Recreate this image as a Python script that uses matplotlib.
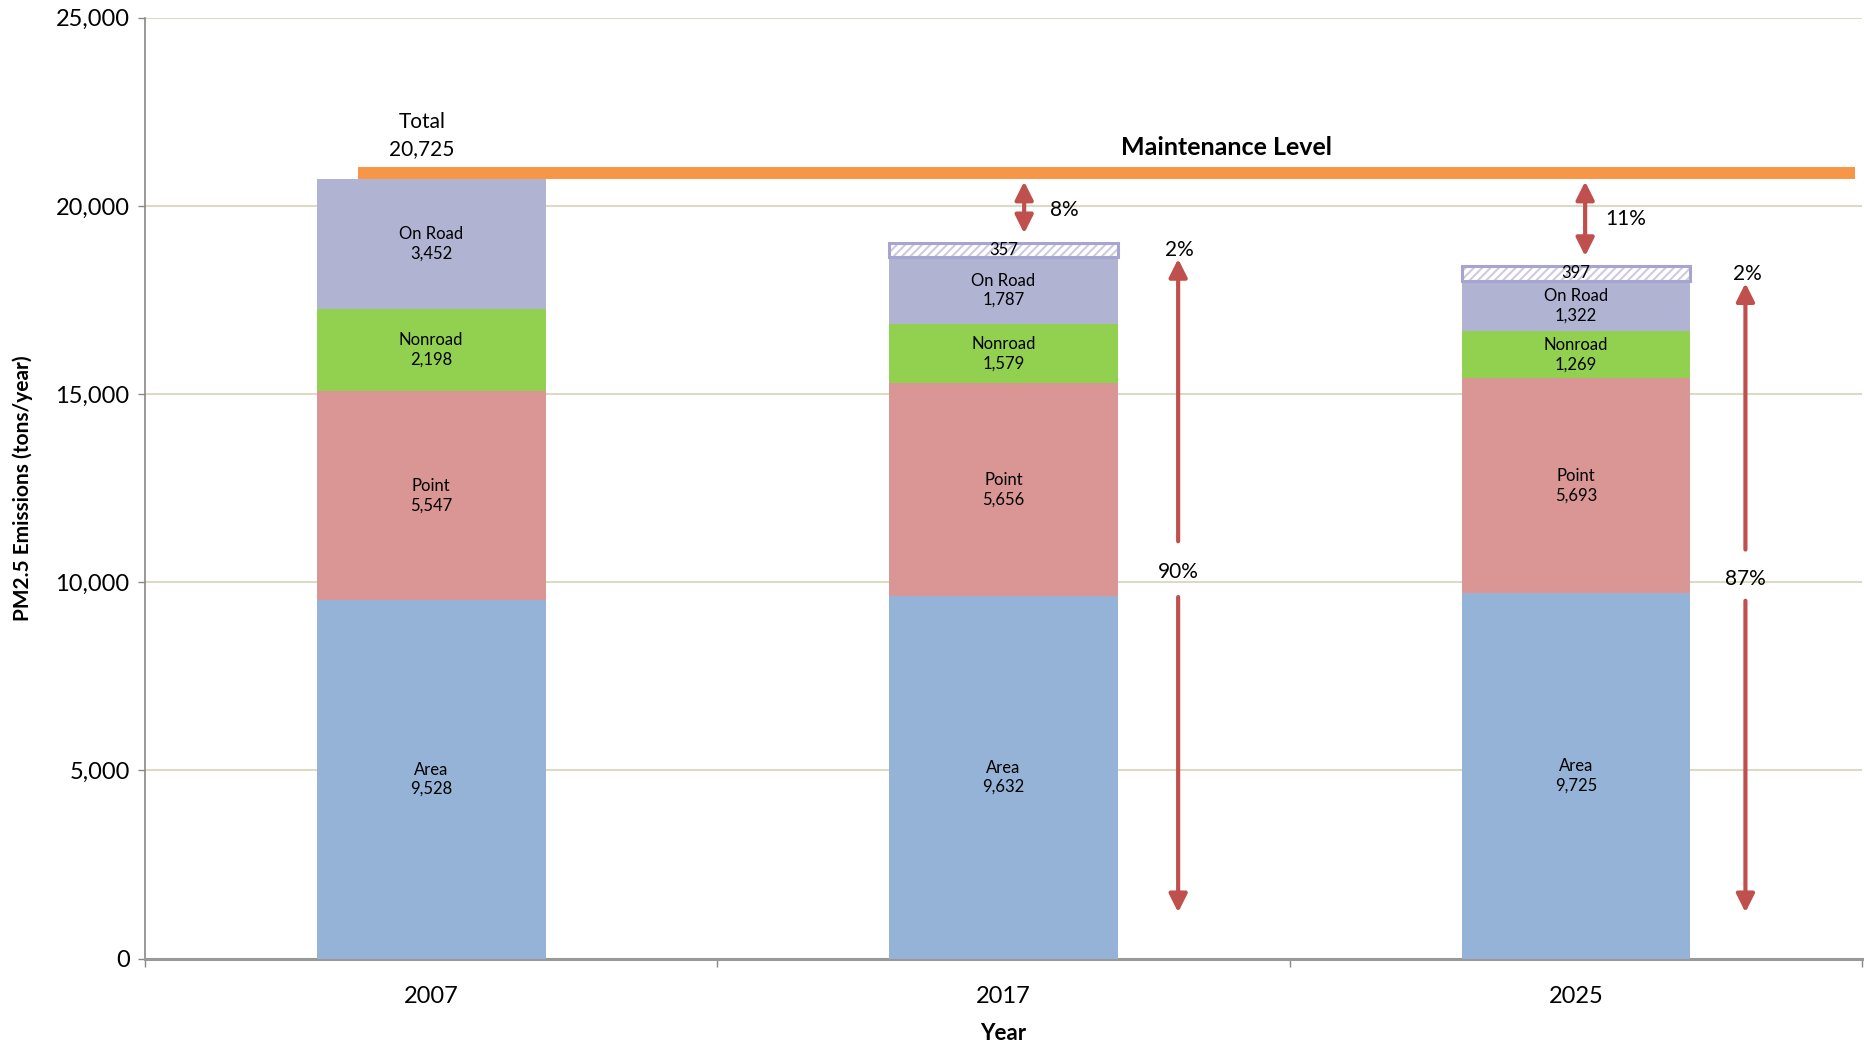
import matplotlib
matplotlib.use('Agg')
import matplotlib.pyplot as plt
from matplotlib.patches import FancyArrowPatch
from matplotlib.ticker import FuncFormatter, FixedLocator
import numpy as np

# ---------------- data ----------------
years = ['2007', '2017', '2025']
sectors = ['Area', 'Point', 'Nonroad', 'On Road']
area = [9528, 9632, 9725]
point = [5547, 5656, 5693]
nonroad = [2198, 1579, 1269]
onroad = [3452, 1787, 1322]
safety_margin = [0, 357, 397]
maintenance_level = 20885
total_2007 = 20725
gap_pct = ['', '8%', '11%']
margin_pct = ['', '2%', '2%']
inventory_pct = ['', '90%', '87%']
yticks = [0, 5000, 10000, 15000, 20000, 25000]

colors = ['#95b3d7', '#d99694', '#92d050', '#b0b3d2']
orange = '#f79646'
arrow_red = '#c0504d'

plt.rcParams['font.family'] = ['Lato', 'DejaVu Sans']

fig = plt.figure(figsize=(18.65, 10.46), dpi=100)
ax = fig.add_axes([0.0777, 0.0835, 0.9208, 0.8995])

x = np.arange(len(years))
width = 0.4
series = [area, point, nonroad, onroad]
bottom = np.zeros(len(years))
for name, vals, c in zip(sectors, series, colors):
    vals = np.array(vals, dtype=float)
    ax.bar(x, vals, width, bottom=bottom, color=c, edgecolor='none', zorder=3)
    for xi, b, v in zip(x, bottom, vals):
        ax.text(xi, b + v / 2, f"{name}\n{int(v):,}", ha='center', va='center',
                fontsize=12, zorder=5, linespacing=1.25)
    bottom = bottom + vals
stack_tops = bottom.copy()

# safety margin (hatched)
plt.rcParams['hatch.linewidth'] = 1.5
for xi, b, s in zip(x, stack_tops, safety_margin):
    if s <= 0:
        continue
    ax.bar(xi, s, width, bottom=b, color='white', edgecolor='#cdcbe3',
           hatch='////', linewidth=0, zorder=3)
    ax.bar(xi, s, width, bottom=b, color='none', edgecolor='#a6a5d0',
           linewidth=2.2, zorder=4)
    ax.text(xi, b + s / 2, f"{s:,}", ha='center', va='center', fontsize=12, zorder=5)

# maintenance level line
ax.plot([-0.128, 2.488], [maintenance_level, maintenance_level], color=orange,
        lw=8.6, solid_capstyle='butt', zorder=4)
ax.text(1.39, 21550, 'Maintenance Level', ha='center', va='center',
        fontsize=18, fontweight='bold', zorder=5)
ax.text(-0.016, 21860, f"Total\n{total_2007:,}", ha='center', va='center',
        fontsize=15, linespacing=1.45, zorder=5)

def arrow(x0, y0, x1, y1, style):
    a = FancyArrowPatch((x0, y0), (x1, y1), arrowstyle=style,
                        mutation_scale=26, color=arrow_red, lw=3,
                        shrinkA=0, shrinkB=0, zorder=6)
    ax.add_patch(a)

head = 'head_length=0.42,head_width=0.21'
small_x = [None, 1.036, 2.016]
big_x = [None, 1.305, 2.296]
gap_label_y = [None, 19880, 19660]
big_gap = [None, (11090, 9610), (10870, 9510)]
big_label_y = [None, 10270, 10080]
margin_label_y = [None, 18840, 18200]
for i in range(1, len(years)):
    top_box = stack_tops[i] + safety_margin[i]
    arrow(small_x[i], 20650, small_x[i], top_box + 260, '<|-|>,' + head)
    ax.text(small_x[i] + 0.07, gap_label_y[i], gap_pct[i], ha='center', va='center',
            fontsize=15, zorder=6)
    g_top, g_bot = big_gap[i]
    arrow(big_x[i], g_top, big_x[i], stack_tops[i] - 60, '-|>,' + head)
    arrow(big_x[i], g_bot, big_x[i], 1230, '-|>,' + head)
    ax.text(big_x[i], big_label_y[i], inventory_pct[i], ha='center', va='center',
            fontsize=15, zorder=6)
    ax.text(big_x[i] + 0.003, margin_label_y[i], margin_pct[i], ha='center', va='center',
            fontsize=15, zorder=6)

# axes styling
ax.set_xlim(-0.5, 2.5)
ax.set_ylim(0, 25000)
ax.set_yticks(yticks)
ax.yaxis.set_major_formatter(FuncFormatter(lambda v, p: f"{int(v):,}"))
ax.grid(axis='y', color='#dcd9c4', lw=1.5, zorder=0)
ax.set_axisbelow(True)
ax.set_xticks(x)
ax.set_xticklabels(years, fontsize=17)
ax.xaxis.set_minor_locator(FixedLocator([-0.5, 0.5, 1.5, 2.5]))
ax.tick_params(axis='x', which='major', length=0, pad=20)
ax.tick_params(axis='x', which='minor', length=6, width=1, color='#888888')
ax.tick_params(axis='y', length=5, width=1, color='#888888', labelsize=17, pad=6)
for s in ['top', 'right']:
    ax.spines[s].set_visible(False)
ax.spines['left'].set_color('#888888')
ax.spines['left'].set_linewidth(1.2)
ax.spines['bottom'].set_color('#999999')
ax.spines['bottom'].set_linewidth(2.2)

ax.set_ylabel('PM2.5 Emissions (tons/year)', fontsize=15, fontweight='bold')
ax.yaxis.set_label_coords(-0.065, 0.5)
ax.set_xlabel('Year', fontsize=16, fontweight='bold')
ax.xaxis.set_label_coords(0.5, -0.068)

fig.savefig('out.png', dpi=100)
